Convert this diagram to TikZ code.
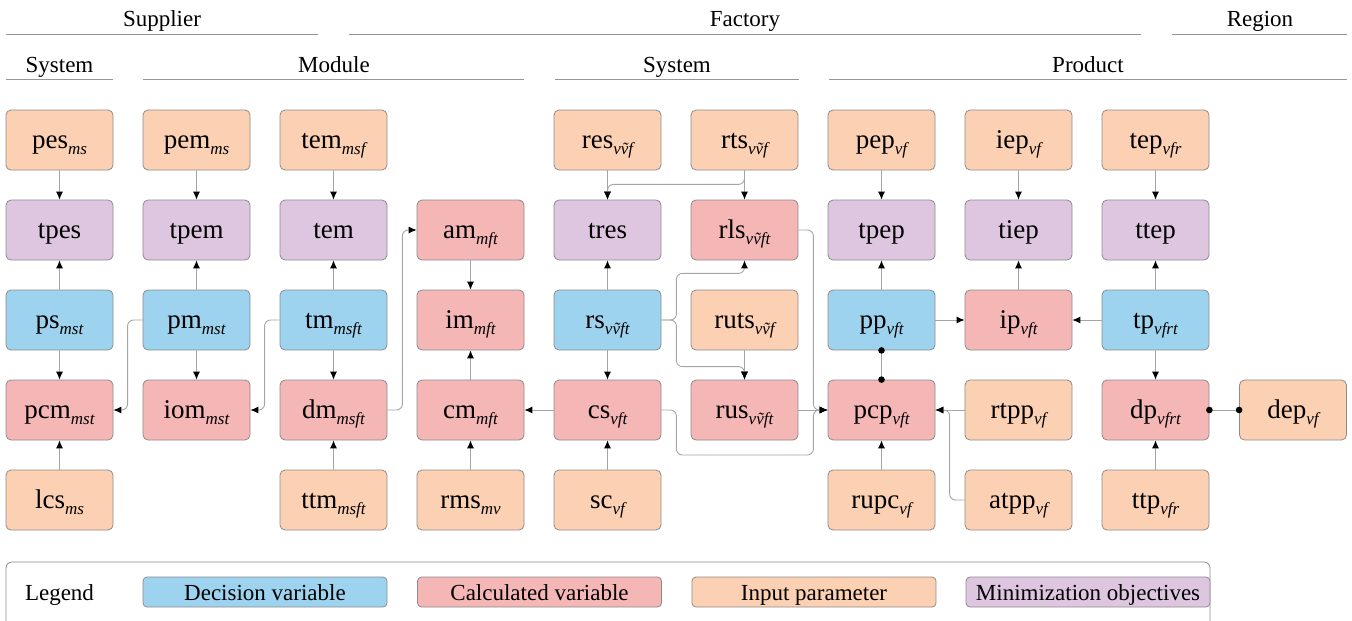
\documentclass[tikz,border=0pt]{standalone}
\usepackage{fontspec}
\setmainfont{Liberation Serif}
\usetikzlibrary{arrows.meta}

% italic index set as a lowered subscript
\newcommand\idx[1]{\raisebox{-0.24em}{\fontsize{17}{17}\selectfont\itshape #1}}
\newcommand\vt{\symbol{"1E7D}}

\definecolor{inpc}{RGB}{252,208,178}
\definecolor{decc}{RGB}{158,211,240}
\definecolor{calcc}{RGB}{244,183,182}
\definecolor{objc}{RGB}{222,198,224}
\definecolor{boxline}{RGB}{140,140,140}
\definecolor{connc}{RGB}{165,165,165}
\definecolor{rulec}{RGB}{150,150,150}

\tikzset{
  varbox/.style={draw=boxline, line width=0.8pt, rounded corners=5pt,
    minimum width=107pt, minimum height=60pt, inner sep=0pt,
    text height=22pt, text depth=6pt,
    font=\fontsize{27}{30}\selectfont},
  inbox/.style={varbox, fill=inpc},
  decbox/.style={varbox, fill=decc},
  calbox/.style={varbox, fill=calcc},
  objbox/.style={varbox, fill=objc},
  legbox/.style={draw=boxline, line width=0.8pt, rounded corners=4pt,
    minimum width=244pt, minimum height=30pt, inner sep=0pt,
    text height=20pt, text depth=4pt,
    font=\fontsize{23}{25}\selectfont},
  conn/.style={draw=connc, line width=0.9pt, rounded corners=6pt,
    -{Latex[black,length=8pt,width=7pt]}},
  link/.style={draw=connc, line width=0.9pt},
  headtext/.style={inner sep=0pt, anchor=base, font=\fontsize{23}{26}\selectfont},
  rule/.style={draw=rulec, line width=0.9pt},
}

\begin{document}
\begin{tikzpicture}[x=1pt,y=-1pt]
\useasboundingbox (0,0) rectangle (1352,621);

% ---- headings ----
\node[headtext] (hsup) at (162,27) {Supplier};
\node[headtext] (hfac) at (745,27) {Factory};
\node[headtext] (hreg) at (1260,27) {Region};
\draw[rule] (6,34) -- (318,34);
\draw[rule] (349,34) -- (1141,34);
\draw[rule] (1172,34) -- (1347,34);

\node[headtext] (hsys1) at (59.5,72) {System};
\node[headtext] (hmod) at (334,72) {Module};
\node[headtext] (hsys2) at (677,72) {System};
\node[headtext] (hprod) at (1088,72) {Product};
\draw[rule] (6,79) -- (113,79);
\draw[rule] (143,79) -- (524,79);
\draw[rule] (555,79) -- (799,79);
\draw[rule] (829,79) -- (1347,79);

% ---- row 1 ----
\node[inbox] (pes) at (59.5,140) {pes\idx{ms}};
\node[inbox] (pem) at (196.5,140) {pem\idx{ms}};
\node[inbox] (temi) at (333.5,140) {tem\idx{msf}};
\node[inbox] (res) at (607.5,140) {res\idx{v\vt f}};
\node[inbox] (rts) at (744.5,140) {rts\idx{v\vt f}};
\node[inbox] (pep) at (881.5,140) {pep\idx{vf}};
\node[inbox] (iep) at (1018.5,140) {iep\idx{vf}};
\node[inbox] (tep) at (1155.5,140) {tep\idx{vfr}};

% ---- row 2 ----
\node[objbox] (tpes) at (59.5,230) {tpes};
\node[objbox] (tpem) at (196.5,230) {tpem};
\node[objbox] (tem) at (333.5,230) {tem};
\node[calbox] (am) at (470.5,230) {am\idx{mft}};
\node[objbox] (tres) at (607.5,230) {tres};
\node[calbox] (rls) at (744.5,230) {rls\idx{v\vt ft}};
\node[objbox] (tpep) at (881.5,230) {tpep};
\node[objbox] (tiep) at (1018.5,230) {tiep};
\node[objbox] (ttep) at (1155.5,230) {ttep};

% ---- row 3 ----
\node[decbox] (ps) at (59.5,320) {ps\idx{mst}};
\node[decbox] (pm) at (196.5,320) {pm\idx{mst}};
\node[decbox] (tm) at (333.5,320) {tm\idx{msft}};
\node[calbox] (im) at (470.5,320) {im\idx{mft}};
\node[decbox] (rs) at (607.5,320) {rs\idx{v\vt ft}};
\node[inbox] (ruts) at (744.5,320) {ruts\idx{v\vt f}};
\node[decbox] (pp) at (881.5,320) {pp\idx{vft}};
\node[calbox] (ip) at (1018.5,320) {ip\idx{vft}};
\node[decbox] (tp) at (1155.5,320) {tp\idx{vfrt}};

% ---- row 4 ----
\node[calbox] (pcm) at (59.5,410) {pcm\idx{mst}};
\node[calbox] (iom) at (196.5,410) {iom\idx{mst}};
\node[calbox] (dm) at (333.5,410) {dm\idx{msft}};
\node[calbox] (cm) at (470.5,410) {cm\idx{mft}};
\node[calbox] (cs) at (607.5,410) {cs\idx{vft}};
\node[calbox] (rus) at (744.5,410) {rus\idx{v\vt ft}};
\node[calbox] (pcp) at (881.5,410) {pcp\idx{vft}};
\node[inbox] (rtpp) at (1018.5,410) {rtpp\idx{vf}};
\node[calbox] (dp) at (1155.5,410) {dp\idx{vfrt}};
\node[inbox] (dep) at (1293,410) {dep\idx{vf}};

% ---- row 5 ----
\node[inbox] (lcs) at (59.5,500) {lcs\idx{ms}};
\node[inbox] (ttm) at (333.5,500) {ttm\idx{msft}};
\node[inbox] (rms) at (470.5,500) {rms\idx{mv}};
\node[inbox] (sc) at (607.5,500) {sc\idx{vf}};
\node[inbox] (rupc) at (881.5,500) {rupc\idx{vf}};
\node[inbox] (atpp) at (1018.5,500) {atpp\idx{vf}};
\node[inbox] (ttp) at (1155.5,500) {ttp\idx{vfr}};

% ---- supplier connectors ----
\draw[conn] (pes) -- (tpes);
\draw[conn] (pem) -- (tpem);
\draw[conn] (temi) -- (tem);
\draw[conn] (ps) -- (tpes);
\draw[conn] (pm) -- (tpem);
\draw[conn] (tm) -- (tem);
\draw[conn] (ps) -- (pcm);
\draw[conn] (lcs) -- (pcm);
\draw[conn] (pm) -- (iom);
\draw[conn] (tm) -- (dm);
\draw[conn] (ttm) -- (dm);
\draw[conn] (pm.west) -- ++(-15,0) |- (pcm.east);
\draw[conn] (tm.west) -- ++(-15,0) |- (iom.east);
\draw[conn] (dm.east) -- ++(15,0) |- (am.west);
\draw[conn] (am) -- (im);
\draw[conn] (cm) -- (im);
\draw[conn] (rms) -- (cm);

% ---- factory system connectors ----
\draw[conn] (cs) -- (cm);
\draw[conn] (sc) -- (cs);
\draw[conn] (rs) -- (cs);
\draw[conn] (rs) -- (tres);
\draw[conn] (res) -- (tres);
\draw[conn] (rts.south) -- ++(0,14) -| (tres.north);
\draw[conn] (rts) -- (rls);
\draw[conn] (rs.east) -- ++(15,0) |- ([yshift=-13pt]rls.south) -- (rls.south);
\draw[conn] (rs.east) -- ++(15,0) |- ([yshift=13pt]rus.north) -- (rus.north);
\draw[conn] (ruts) -- (rus);
\draw[conn] (rls.east) -- ++(15,0) |- (pcp.west);
\draw[conn] (rus) -- (pcp);
\draw[conn] (cs.east) -- ++(15,0) -- ++(0,45) -- ++(137,0) |- (pcp.west);

% ---- product and region connectors ----
\draw[conn] (pep) -- (tpep);
\draw[conn] (pp) -- (tpep);
\draw[conn] (pp) -- (ip);
\draw[conn] (iep) -- (tiep);
\draw[conn] (ip) -- (tiep);
\draw[conn] (tep) -- (ttep);
\draw[conn] (tp) -- (ttep);
\draw[conn] (tp) -- (ip);
\draw[conn] (tp) -- (dp);
\draw[conn] (ttp) -- (dp);
\draw[conn] (rtpp) -- (pcp);
\draw[conn] (atpp.west) -- ++(-15,0) |- (pcp.east);
\draw[conn] (rupc) -- (pcp);
\draw[link] (pp) -- (pcp);
\fill (pp.south) circle (3.3pt);
\fill (pcp.north) circle (3.3pt);
\draw[link] (dp) -- (dep);
\fill (dp.east) circle (3.3pt);
\fill (dep.west) circle (3.3pt);

% ---- legend ----
\draw[draw=boxline, line width=0.8pt, rounded corners=6pt] (6,562) rectangle (1210,660);
\node[inner sep=0pt, anchor=base, font=\fontsize{23}{25}\selectfont] (legtitle) at (59.5,600) {Legend};
\node[legbox, fill=decc] (legdec) at (265,592) {Decision variable};
\node[legbox, fill=calcc] (legcal) at (539.5,592) {Calculated variable};
\node[legbox, fill=inpc] (legin) at (814,592) {Input parameter};
\node[legbox, fill=objc] (legobj) at (1088,592) {Minimization objectives};
\end{tikzpicture}
\end{document}
